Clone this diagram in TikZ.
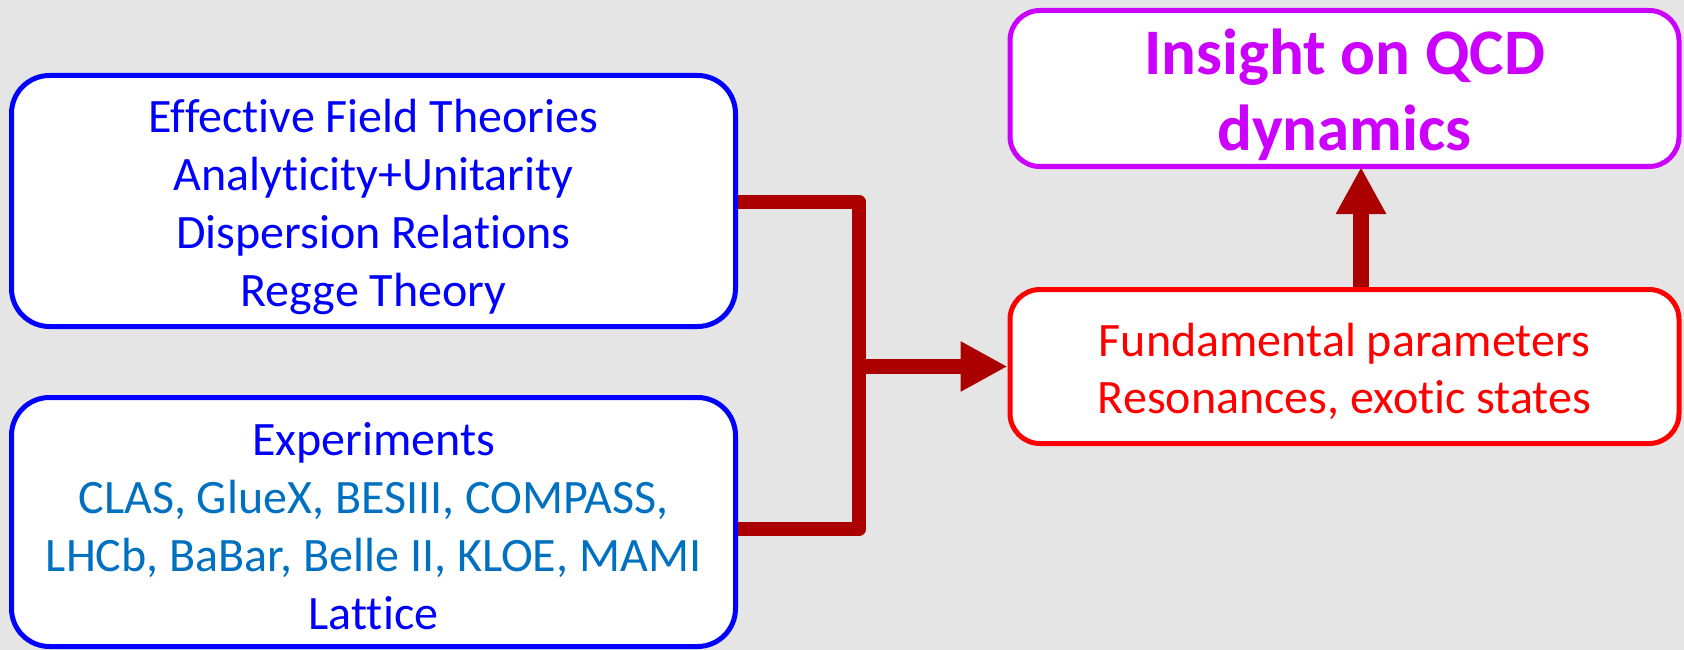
\documentclass[tikz,border=0pt]{standalone}
\usepackage{fontspec}
\setmainfont{Carlito}[Ligatures=NoCommon]
\usetikzlibrary{arrows.meta}
\definecolor{bgcol}{HTML}{E5E5E5}
\definecolor{boxblue}{HTML}{0000FF}
\definecolor{listblue}{HTML}{0070C0}
\definecolor{boxmag}{HTML}{CC00FF}
\definecolor{boxred}{HTML}{FF0000}
\definecolor{connred}{HTML}{AA0000}
\tikzset{
  box/.style={draw, fill=white, line width=5pt, rounded corners=38pt, inner sep=0pt},
  txt/.style={align=center, inner sep=0pt},
  conn/.style={draw=connred, line width=14.5pt, line join=round},
  tip/.style={-{Triangle[length=47pt,width=47pt]}},
}
\begin{document}
\begin{tikzpicture}[x=1pt,y=-1pt]
\useasboundingbox (0,0) rectangle (1684,650);
\fill[bgcol] (0,0) rectangle (1684,650);
\node[box, draw=boxblue, minimum width=724pt, minimum height=251pt] (b1) at (373.5,201) {};
\node[txt, text=boxblue, font=\fontsize{48pt}{58pt}\selectfont] (t1) at ([yshift=-6pt]b1.center)
  {Effective Field Theories\\Analyticity+Unitarity\\Dispersion Relations\\Regge Theory};
\node[box, draw=boxblue, minimum width=724pt, minimum height=249pt] (b2) at (373.5,522) {};
\node[txt, text=boxblue, font=\fontsize{48pt}{58pt}\selectfont] (t2) at ([yshift=-4pt]b2.center)
  {Experiments\\\textcolor{listblue}{CLAS, GlueX, BESIII, COMPASS,}\\\textcolor{listblue}{LHCb, BaBar, Belle II, KLOE, MAMI}\\Lattice};
\node[box, draw=boxmag, rounded corners=30pt, minimum width=669pt, minimum height=156pt] (b3) at (1344.5,88.5) {};
\node[txt, text=boxmag, font=\fontsize{65pt}{76pt}\selectfont\bfseries] (t3) at ([yshift=-6pt]b3.center)
  {Insight on QCD\\dynamics};
\node[box, draw=boxred, rounded corners=30pt, minimum width=669pt, minimum height=154pt] (b4) at (1344.5,366.5) {};
\node[txt, text=boxred, font=\fontsize{48pt}{57pt}\selectfont] (t4) at ([yshift=-5pt]b4.center)
  {Fundamental parameters\\Resonances, exotic states};
\coordinate (bus1) at (859,202);
\coordinate (bus2) at (859,529);
\draw[conn] (b1.east |- bus1) -- (bus1) -- (bus2) -- (b2.east |- bus2);
\draw[conn, tip] (bus1 |- b4.west) -- (b4.west);
\draw[conn, tip, line width=16pt] ([xshift=16.5pt]b4.north) -- ([xshift=16.5pt,yshift=2pt]b3.south);
\end{tikzpicture}
\end{document}
